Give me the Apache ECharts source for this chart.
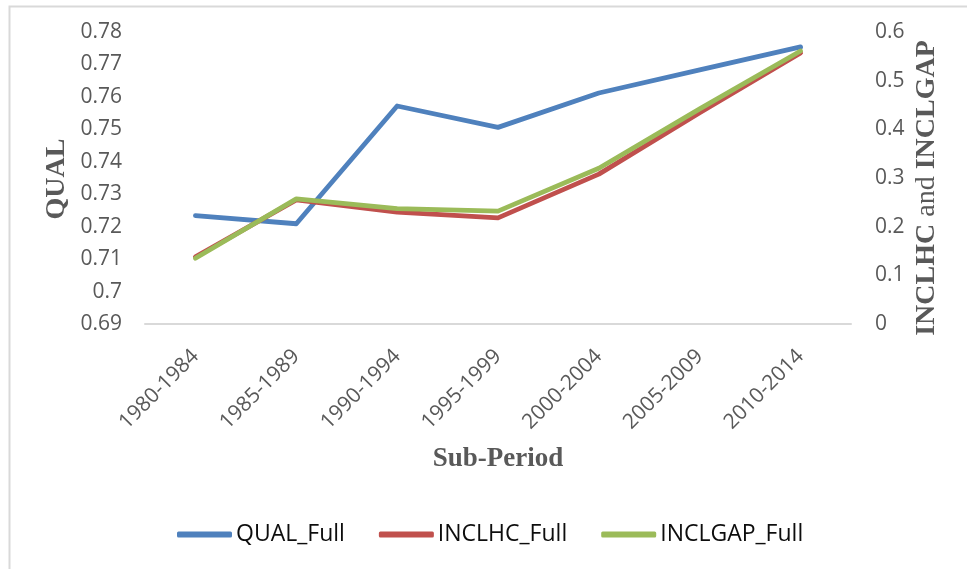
<!DOCTYPE html>
<html>
<head>
<meta charset="utf-8">
<script src="https://cdn.jsdelivr.net/npm/echarts@6/dist/echarts.min.js"></script>
<style>
  html, body { margin: 0; padding: 0; background: #fff; }
  #chart { width: 967px; height: 569px; }
</style>
</head>
<body>
<div id="chart"></div>
<script>
// Sub-period categories and series values
const periods = ['1980-1984', '1985-1989', '1990-1994', '1995-1999', '2000-2004', '2005-2009', '2010-2014'];
const qualFull = [0.7234, 0.7209, 0.7572, 0.7506, 0.7612, 0.7683, 0.7754];
const inclhcFull = [0.138, 0.255, 0.230, 0.218, 0.308, 0.434, 0.557];
const inclgapFull = [0.135, 0.257, 0.237, 0.232, 0.320, 0.442, 0.561];

// Axis ranges
const qualMin = 0.69, qualMax = 0.78, qualStep = 0.01;
const inclMin = 0, inclMax = 0.6, inclStep = 0.1;

const tickFont = { fontFamily: 'Open Sans', fontSize: 21, color: '#595959' };
const serif = 'Liberation Serif';

const chart = echarts.init(document.getElementById('chart'), null, { renderer: 'canvas' });

const lineSeries = (name, data, color, axisIndex) => ({
  name, type: 'line', data, yAxisIndex: axisIndex,
  symbol: 'none', smooth: false,
  lineStyle: { color, width: 4.8, cap: 'round', join: 'round' },
  itemStyle: { color },
  emphasis: { disabled: true }
});

chart.setOption({
  animation: false,
  backgroundColor: '#ffffff',
  grid: { left: 145, right: 116, top: 32, bottom: 245, containLabel: false },
  legend: {
    left: 172, top: 518,
    itemWidth: 55, itemHeight: 6, itemGap: 34,
    icon: 'roundRect',
    textStyle: { fontFamily: 'Open Sans', fontSize: 23, color: '#0d0d0d', padding: [0, 0, 0, -1] },
    data: ['QUAL_Full', 'INCLHC_Full', 'INCLGAP_Full']
  },
  xAxis: {
    type: 'category', data: periods, boundaryGap: true,
    axisLine: { show: true, lineStyle: { color: '#d9d9d9', width: 2 } },
    axisTick: { show: false },
    axisLabel: { ...tickFont, fontSize: 21, rotate: 45, margin: 29, interval: 0 },
    splitLine: { show: false }
  },
  yAxis: [
    {
      type: 'value', min: qualMin, max: qualMax, interval: qualStep, position: 'left',
      axisLine: { show: false }, axisTick: { show: false }, splitLine: { show: false },
      axisLabel: { ...tickFont, margin: 23, formatter: v => String(+v.toFixed(2)) }
    },
    {
      type: 'value', min: inclMin, max: inclMax, interval: inclStep, position: 'right',
      axisLine: { show: false }, axisTick: { show: false }, splitLine: { show: false },
      axisLabel: { ...tickFont, margin: 24, formatter: v => String(+v.toFixed(1)) }
    }
  ],
  series: [
    lineSeries('QUAL_Full', qualFull, '#4f81bd', 0),
    lineSeries('INCLHC_Full', inclhcFull, '#c0504d', 1),
    lineSeries('INCLGAP_Full', inclgapFull, '#9bbb59', 1)
  ],
  graphic: [
    {
      type: 'rect', left: 7, top: 4, silent: true,
      shape: { width: 1000, height: 620 },
      style: { fill: 'none', stroke: '#d9d9d9', lineWidth: 2 }
    },
    {
      type: 'text', x: 57, y: 179, rotation: Math.PI / 2, silent: true,
      style: {
        text: 'QUAL', fontFamily: serif, fontWeight: 'bold', fontSize: 28,
        fill: '#595959', align: 'center', verticalAlign: 'middle'
      }
    },
    {
      type: 'text', x: 927, y: 188, rotation: Math.PI / 2, silent: true,
      style: {
        text: '{b|INCLHC}{n| and }{b|INCLGAP}',
        align: 'center', verticalAlign: 'middle',
        rich: {
          b: { fontFamily: serif, fontWeight: 'bold', fontSize: 28, fill: '#595959' },
          n: { fontFamily: serif, fontWeight: 'normal', fontSize: 28, fill: '#595959' }
        }
      }
    },
    {
      type: 'text', x: 498, y: 459, silent: true,
      style: {
        text: 'Sub-Period', fontFamily: serif, fontWeight: 'bold', fontSize: 27,
        fill: '#595959', align: 'center', verticalAlign: 'middle'
      }
    }
  ]
});
</script>
</body>
</html>
